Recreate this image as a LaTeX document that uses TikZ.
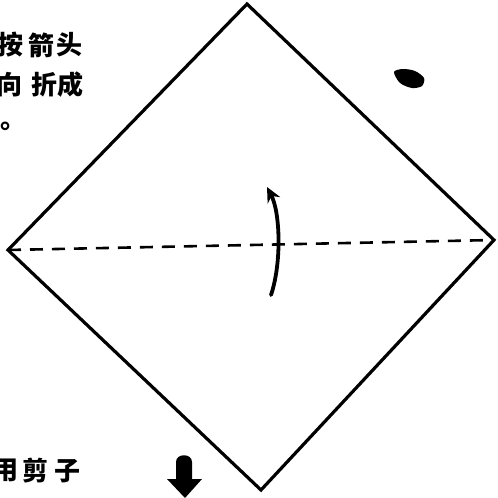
\documentclass[tikz,border=0pt]{standalone}
\usepackage{fontspec}
\newfontfamily\cjk{Noto Sans CJK SC}
\usetikzlibrary{arrows.meta}
\tikzset{
  edge/.style={line width=3.2pt, line join=miter, line cap=round},
  foldline/.style={line width=2.6pt, dash pattern=on 13pt off 9pt},
  turn/.style={line width=3.8pt, line cap=round, -{Stealth[length=15pt,width=14pt]}},
  glyph/.style={inner sep=0pt, font=\cjk\bfseries\fontsize{26}{26}\selectfont},
}
\begin{document}
\begin{tikzpicture}[x=1pt,y=-1pt]
\useasboundingbox (0,0) rectangle (498,498);
\coordinate (top) at (247,4);
\coordinate (right) at (494,240);
\coordinate (bottom) at (261,490);
\coordinate (left) at (8,250);
\draw[edge] (top) -- (right) -- (bottom) -- (left) -- cycle;
\draw[foldline] (left) -- (right);
\coordinate (c0) at (271,295);
\coordinate (c1) at (267,187);
\draw[turn] (c0) .. controls (282,262) and (280,212) .. (c1);
% blob
\fill plot[smooth cycle] coordinates {(394,72) (403,69) (415,71) (424,78) (422,86) (412,88) (400,83)};
% down arrow
\fill (176,479) -- (176,462) .. controls (176,453) and (192,453) .. (192,462) -- (192,479) -- (202,479) -- (185,498) -- (167,479) -- cycle;
% text
\node[glyph] (t1) at (11,45) {按};
\node[glyph] (t2) at (41,45) {箭};
\node[glyph] (t3) at (69,45) {头};
\node[glyph] (t4) at (10,85) {向};
\node[glyph] (t5) at (44,85) {折};
\node[glyph] (t6) at (70,85) {成};
\node[glyph] (t7) at (13,126) {。};
\node[glyph] (t8) at (5,471) {用};
\node[glyph] (t9) at (36,471) {剪};
\node[glyph] (t10) at (67,471) {子};
\end{tikzpicture}
\end{document}
